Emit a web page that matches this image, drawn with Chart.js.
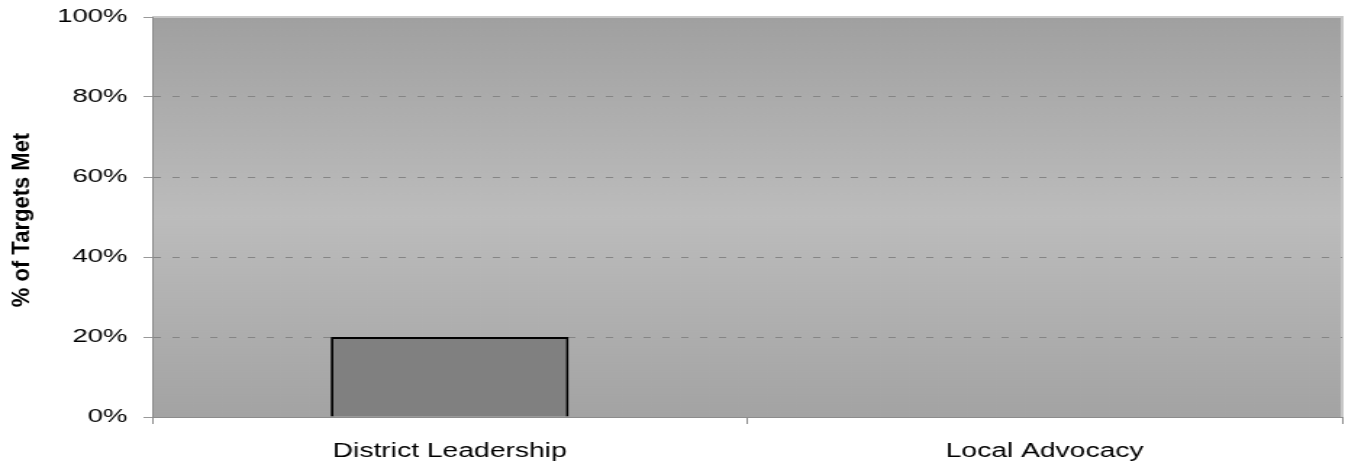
<!DOCTYPE html>
<html>
<head>
<meta charset="utf-8">
<script src="https://cdn.jsdelivr.net/npm/chart.js@4"></script>
<style>
  html, body { margin: 0; padding: 0; background: #fff; overflow: hidden; }
  /* the original picture is stretched sideways, so the canvas is too */
  #wrap { width: 928px; height: 465px; transform: scaleX(1.449353); transform-origin: 0 0; }
</style>
</head>
<body>
<div id="wrap"><canvas id="chart" width="928" height="465"></canvas></div>
<script>
const categories = ['District Leadership', 'Local Advocacy'];
const targetsMet = [20, 0];
const yMin = 0;
const yMax = 100;
const yStep = 20;
const yTitle = '% of Targets Met';

const STRETCH = 1345 / 928;
const FONT = '"Liberation Sans", Arial, sans-serif';

// grey gradient behind the bars + light frame
const plotBackground = {
  id: 'plotBackground',
  beforeDraw(chart) {
    const { ctx, chartArea: a } = chart;
    const g = ctx.createLinearGradient(0, a.top, 0, a.bottom);
    g.addColorStop(0, '#a0a0a0');
    g.addColorStop(0.5, '#bcbcbc');
    g.addColorStop(1, '#a3a3a3');
    ctx.save();
    ctx.fillStyle = g;
    ctx.fillRect(a.left, a.top, a.right - a.left, a.bottom - a.top);
    ctx.strokeStyle = '#c6c6c6';
    ctx.lineWidth = 2;
    ctx.beginPath();
    ctx.moveTo(a.left, a.top);
    ctx.lineTo(a.right, a.top);
    ctx.lineTo(a.right, a.bottom);
    ctx.stroke();
    ctx.restore();
  }
};

// y title drawn by hand so it is not widened too much by the stretch
const axisTitle = {
  id: 'axisTitle',
  afterDraw(chart) {
    const { ctx, chartArea: a } = chart;
    ctx.save();
    ctx.translate(22 / STRETCH, (a.top + a.bottom) / 2 + 3);
    ctx.scale(1.1 / STRETCH, 1);
    ctx.rotate(-Math.PI / 2);
    ctx.font = 'bold 22px ' + FONT;
    ctx.fillStyle = '#000';
    ctx.textAlign = 'center';
    ctx.textBaseline = 'middle';
    ctx.fillText(yTitle, 0, 0);
    ctx.restore();
  }
};

new Chart(document.getElementById('chart'), {
  type: 'bar',
  data: {
    labels: categories,
    datasets: [{
      data: targetsMet,
      backgroundColor: '#808080',
      borderColor: '#000',
      borderWidth: 2,
      barPercentage: 0.4,
      categoryPercentage: 1
    }]
  },
  options: {
    responsive: false,
    animation: false,
    layout: { padding: { top: 17, right: 2, left: 0, bottom: 0 } },
    plugins: {
      legend: { display: false },
      tooltip: { enabled: false }
    },
    scales: {
      x: {
        afterFit(scale) { scale.height = 48; },
        border: { display: true, color: '#8c8c8c', width: 1 },
        grid: {
          drawOnChartArea: false,
          tickLength: 7,
          tickColor: '#8c8c8c'
        },
        ticks: {
          color: '#000',
          padding: 16,
          font: { family: FONT, size: 19.5 }
        }
      },
      y: {
        min: yMin,
        max: yMax,
        afterFit(scale) {
          scale.width = 105;
          scale.paddingTop = 0;
          scale.paddingBottom = 0;
        },
        border: { display: true, color: '#8c8c8c', width: 1, dash: [5, 8] },
        grid: {
          color: (c) => (c.tick && (c.tick.value === yMin || c.tick.value === yMax)) ? 'rgba(0,0,0,0)' : '#858585',
          lineWidth: 1,
          tickLength: 6,
          tickColor: '#999',
          tickBorderDash: []
        },
        ticks: {
          stepSize: yStep,
          color: '#000',
          padding: 11,
          font: { family: FONT, size: 19 },
          callback: (v) => v + '%'
        }
      }
    }
  },
  plugins: [plotBackground, axisTitle]
});
</script>
</body>
</html>
